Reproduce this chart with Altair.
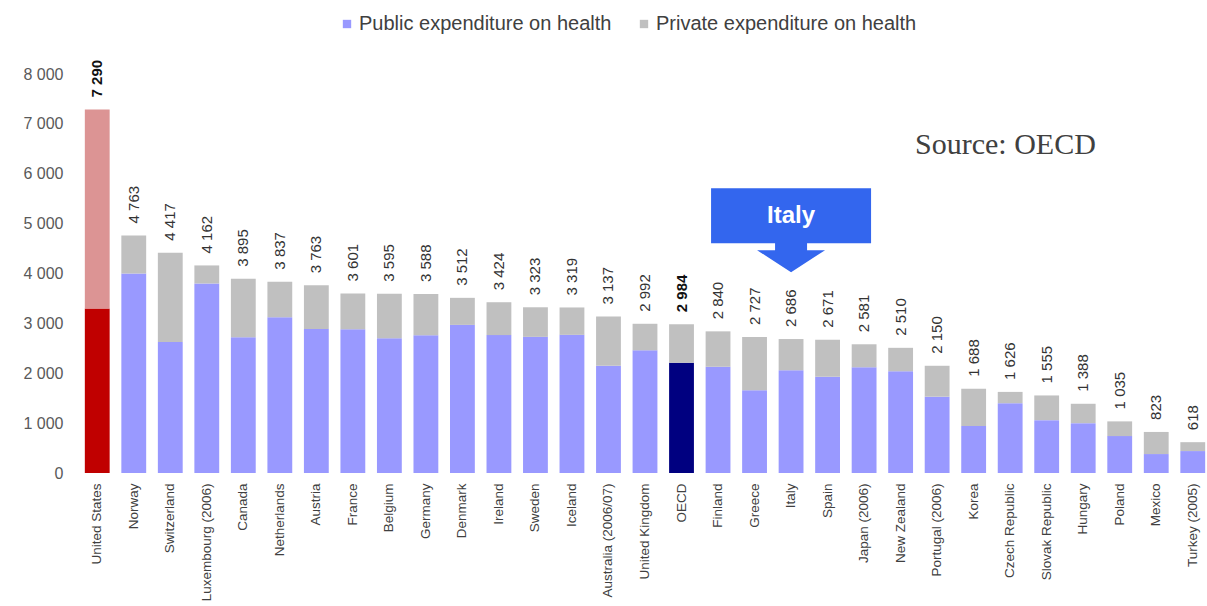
import altair as alt
import pandas as pd

countries = ["United States", "Norway", "Switzerland", "Luxembourg (2006)", "Canada",
             "Netherlands", "Austria", "France", "Belgium", "Germany", "Denmark",
             "Ireland", "Sweden", "Iceland", "Australia (2006/07)", "United Kingdom",
             "OECD", "Finland", "Greece", "Italy", "Spain", "Japan (2006)",
             "New Zealand", "Portugal (2006)", "Korea", "Czech Republic",
             "Slovak Republic", "Hungary", "Poland", "Mexico", "Turkey (2005)"]
totals = [7290, 4763, 4417, 4162, 3895, 3837, 3763, 3601, 3595, 3588, 3512,
          3424, 3323, 3319, 3137, 2992, 2984, 2840, 2727, 2686, 2671, 2581,
          2510, 2150, 1688, 1626, 1555, 1388, 1035, 823, 618]
public = [3300, 4000, 2625, 3800, 2720, 3125, 2885, 2880, 2700, 2760, 2970,
          2765, 2730, 2770, 2150, 2460, 2210, 2130, 1660, 2060, 1930, 2120,
          2040, 1530, 940, 1400, 1060, 1000, 740, 380, 440]
highlight = {"United States": "US", "OECD": "OECD"}
y_ticks = [0, 1000, 2000, 3000, 4000, 5000, 6000, 7000, 8000]

PUB = "Public expenditure on health"
PRIV = "Private expenditure on health"
color_domain = [PUB, PRIV, "US public", "US private", "OECD public", "OECD private"]
color_range = ["#9999FF", "#C0C0C0", "#C00000", "#DC9494", "#000080", "#C0C0C0"]

rows = []
for c, t, p in zip(countries, totals, public):
    h = highlight.get(c)
    rows.append({
        "country": c, "total": t, "public": p,
        "pubKey": (h + " public") if h else PUB,
        "privKey": (h + " private") if h else PRIV,
        "bold": bool(h),
    })
df = pd.DataFrame(rows)

callout = pd.DataFrame({"country": ["Italy"], "y": [5170], "label": ["Italy"]})
source = pd.DataFrame({"t": ["Source: OECD"]})

FONT = "Liberation Sans"

x_enc = alt.X("country:N", sort=None,
              scale=alt.Scale(domain=countries, paddingInner=0.32, paddingOuter=0.05),
              axis=alt.Axis(title=None, domain=False, ticks=False, labelAngle=-90,
                            labelFontSize=13.5, labelColor="#404040", labelPadding=10,
                            labelFont=FONT, labelLimit=300))
y_scale = alt.Scale(domain=[0, 8000], nice=False, zero=True)
color_scale = alt.Scale(domain=color_domain, range=color_range)
legend = alt.Legend(title=None, orient="none", legendX=254, legendY=-60,
                    direction="horizontal", values=[PUB, PRIV], symbolType="square",
                    symbolSize=70, symbolStrokeWidth=0, labelFontSize=20,
                    labelColor="#404040", labelFont=FONT, columnPadding=22,
                    labelOffset=2, padding=0, labelLimit=0)

base = alt.Chart(df)

pub_bars = base.mark_bar().encode(
    x=x_enc,
    y=alt.Y("public:Q", scale=y_scale,
            axis=alt.Axis(title=None, grid=False, domain=False, ticks=False,
                          values=y_ticks, labelPadding=20, labelFontSize=16,
                          labelColor="#595959", labelFont=FONT,
                          labelExpr="replace(format(datum.value, ','), ',', ' ')")),
    color=alt.Color("pubKey:N", scale=color_scale, legend=legend),
)
priv_bars = base.mark_bar().encode(
    x=x_enc,
    y=alt.Y("public:Q", scale=y_scale),
    y2="total:Q",
    color=alt.Color("privKey:N", scale=color_scale, legend=legend),
)

lab = base.transform_calculate(
    lbl="replace(format(datum.total, ','), ',', ' ')"
)
labels_norm = lab.transform_filter("!datum.bold").mark_text(
    angle=270, align="left", baseline="middle", dx=12, fontSize=15,
    color="#333333", font=FONT
).encode(x=x_enc, y=alt.Y("total:Q", scale=y_scale), text="lbl:N")
labels_bold = lab.transform_filter("datum.bold").mark_text(
    angle=270, align="left", baseline="middle", dx=12, fontSize=15,
    fontWeight="bold", color="#111111", font=FONT
).encode(x=x_enc, y=alt.Y("total:Q", scale=y_scale), text="lbl:N")

arrow_path = ("M-1,-0.3375 L1,-0.3375 L1,0.35 L0.2,0.35 L0.2,0.4375 L0.425,0.4375 "
              "L0,0.7125 L-0.425,0.4375 L-0.2,0.4375 L-0.2,0.35 L-1,0.35 Z")
callout_shape = alt.Chart(callout).mark_point(
    shape=arrow_path, filled=True, size=25600, color="#3366EE", opacity=1,
    strokeWidth=0
).encode(x=x_enc, y=alt.Y("y:Q", scale=y_scale))
callout_text = alt.Chart(callout).mark_text(
    fontSize=24, fontWeight="bold", color="white", font=FONT,
    align="center", baseline="middle", dy=1
).encode(x=x_enc, y=alt.Y("y:Q", scale=y_scale), text="label:N")

source_text = alt.Chart(source).mark_text(
    font="Liberation Serif", fontSize=30, color="#404040", align="left",
    baseline="middle"
).encode(x=alt.value(832), y=alt.value(71), text="t:N")

chart = alt.layer(
    pub_bars, priv_bars, labels_norm, labels_bold, callout_shape, callout_text,
    source_text
).properties(
    width=1124, height=399,
    autosize=alt.AutoSizeParams(type="none"),
    padding={"left": 83, "top": 74, "right": 0, "bottom": 133},
    background="white",
).configure_view(stroke=None)

chart.save("out.html", embed_options={"renderer": "svg", "actions": False})
